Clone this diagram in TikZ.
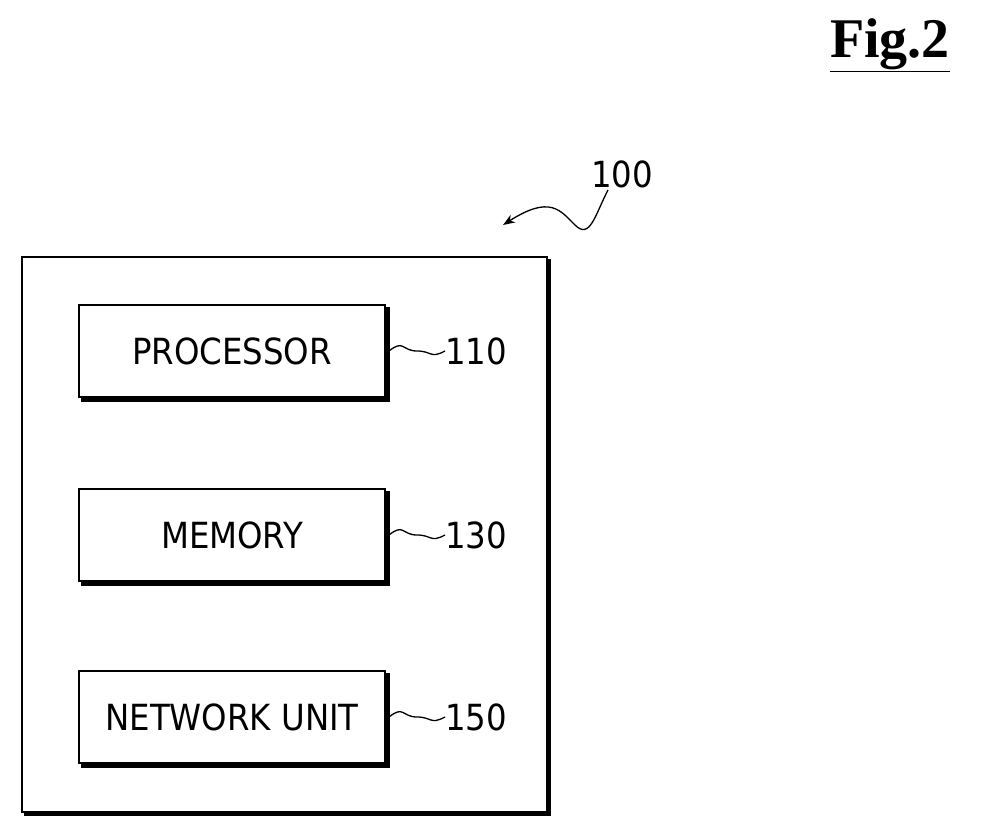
\documentclass[tikz,border=0pt]{standalone}
\usepackage{fontspec}
\setmainfont{DejaVu Sans Condensed}
\newfontfamily\figfont{Liberation Serif}
\usetikzlibrary{arrows.meta}
\begin{document}
\begin{tikzpicture}[x=1pt,y=-1pt,
  box/.style={draw,line width=2pt,minimum width=306pt,minimum height=92pt,font=\fontsize{36}{40}\selectfont,inner sep=0pt},
  lbl/.style={font=\fontsize{36}{40}\selectfont,anchor=west,inner sep=0pt},
  sq/.style={line width=1.3pt}]
\useasboundingbox (0,0) rectangle (991,838);
% outer
\draw[line width=2pt] (22,257) rectangle (547,812);
\draw[line width=4pt] (549,259) -- (549,814) -- (24,814);
\node[box] (p) at (232,351) {PROCESSOR};
\node[box] (m) at (232,535) {MEMORY};
\node[box] (n) at (232,717) {NETWORK UNIT};
\foreach \b in {p,m,n}{
  \draw[line width=3.5pt] ([xshift=2pt,yshift=-3pt]\b.north east) -- ([xshift=2pt,yshift=-2pt]\b.south east) -- ([xshift=3pt,yshift=-2pt]\b.south west);
}
\node[lbl] (l110) at (445,351) {110};
\node[lbl] (l130) at (445,535) {130};
\node[lbl] (l150) at (445,717) {150};
\foreach \b/\l in {p/l110,m/l130,n/l150}{
  \draw[sq] ([xshift=3pt]\b.east) .. controls +(15,-12) and +(-15,0) .. +(28,0) .. controls +(15,0) and +(-15,8) .. (\l.west);
}
\node[lbl,anchor=center] (l100) at (622,174) {100};
\coordinate (a100) at (503,225);
\draw[sq,-{Stealth[length=12pt,width=9pt]}] (608,190) .. controls (595,215) and (590,240) .. (575,225) .. controls (560,210) and (550,195) .. (a100);
\node[font=\figfont\bfseries\fontsize{56}{60}\selectfont,inner sep=0pt] (fig) at (890,45) {\underline{Fig.2}};
\end{tikzpicture}
\end{document}
